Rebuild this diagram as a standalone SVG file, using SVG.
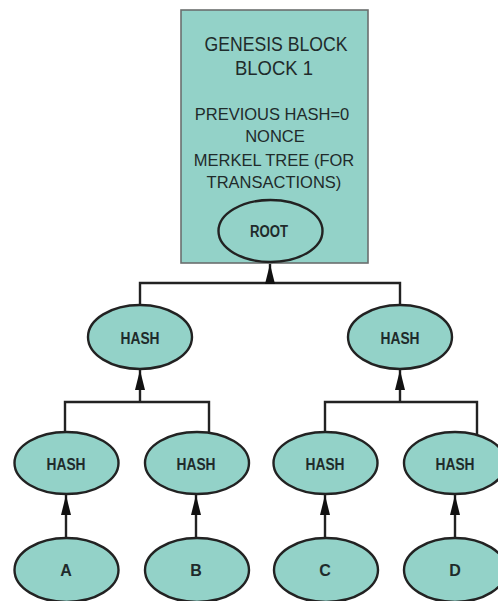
<svg xmlns="http://www.w3.org/2000/svg" width="498" height="601" viewBox="0 0 498 601">
<defs>
<style>
.blk{fill:#93d2c8;stroke:#6b6f6e;stroke-width:1.6}
.el{fill:#93d2c8;stroke:#222;stroke-width:2.4}
.ln{fill:none;stroke:#222;stroke-width:2.4}
.t1{font-family:"Liberation Sans",Arial,sans-serif;font-size:21px;fill:#1f2b2b;text-anchor:middle}
.t2{font-family:"Liberation Sans",Arial,sans-serif;font-size:16.5px;fill:#1f2b2b;text-anchor:middle}
.lb{font-family:"Liberation Sans",Arial,sans-serif;font-size:16px;font-weight:bold;fill:#1f2b2b;text-anchor:middle}
</style>
<marker id="ah" markerUnits="userSpaceOnUse" markerWidth="20" markerHeight="12" refX="20" refY="6" orient="auto">
<path d="M0,1 L20,6 L0,11 z" fill="#111"/>
</marker>
</defs>
<rect width="498" height="601" fill="#fff"/>
<g id="connectors">
<path class="ln" d="M140,305 V283 H400 V305"/>
<path class="ln" d="M270,283 V264" marker-end="url(#ah)"/>
<path class="ln" d="M65,434 V402 H209 V434"/>
<path class="ln" d="M140,402 V370" marker-end="url(#ah)"/>
<path class="ln" d="M325,434 V402 H477 V438"/>
<path class="ln" d="M400,402 V370" marker-end="url(#ah)"/>
<path class="ln" d="M66,539 V495" marker-end="url(#ah)"/>
<path class="ln" d="M196,539 V495" marker-end="url(#ah)"/>
<path class="ln" d="M325,539 V495" marker-end="url(#ah)"/>
<path class="ln" d="M455,539 V495" marker-end="url(#ah)"/>
</g>
<g id="genesis">
<rect class="blk" x="181" y="10" width="187" height="253"/>
<text class="t1" x="276" y="51" textLength="143" lengthAdjust="spacingAndGlyphs">GENESIS BLOCK</text>
<text class="t1" x="274" y="75" textLength="78" lengthAdjust="spacingAndGlyphs">BLOCK 1</text>
<text class="t2" x="272" y="120">PREVIOUS HASH=0</text>
<text class="t2" x="275" y="142">NONCE</text>
<text class="t2" x="274" y="166">MERKEL TREE (FOR</text>
<text class="t2" x="274" y="188">TRANSACTIONS)</text>
</g>
<g id="root">
<ellipse class="el" cx="270.5" cy="231" rx="52" ry="31"/>
<text class="lb" x="269" y="237" textLength="38" lengthAdjust="spacingAndGlyphs">ROOT</text>
</g>
<g id="hash-l">
<ellipse class="el" cx="140" cy="337" rx="52" ry="32"/>
<text class="lb" x="140" y="344" textLength="39" lengthAdjust="spacingAndGlyphs">HASH</text>
</g>
<g id="hash-r">
<ellipse class="el" cx="400" cy="337" rx="52" ry="32"/>
<text class="lb" x="400" y="344" textLength="39" lengthAdjust="spacingAndGlyphs">HASH</text>
</g>
<g id="hash-a">
<ellipse class="el" cx="66.5" cy="463" rx="52" ry="31"/>
<text class="lb" x="66" y="470" textLength="39" lengthAdjust="spacingAndGlyphs">HASH</text>
</g>
<g id="hash-b">
<ellipse class="el" cx="197" cy="463" rx="52" ry="31"/>
<text class="lb" x="196" y="470" textLength="39" lengthAdjust="spacingAndGlyphs">HASH</text>
</g>
<g id="hash-c">
<ellipse class="el" cx="325.5" cy="463" rx="52" ry="31"/>
<text class="lb" x="325" y="470" textLength="39" lengthAdjust="spacingAndGlyphs">HASH</text>
</g>
<g id="hash-d">
<ellipse class="el" cx="455" cy="463" rx="51" ry="31"/>
<text class="lb" x="455" y="470" textLength="39" lengthAdjust="spacingAndGlyphs">HASH</text>
</g>
<g id="a">
<ellipse class="el" cx="66.5" cy="570" rx="52" ry="32"/>
<text class="lb" x="66" y="576">A</text>
</g>
<g id="b">
<ellipse class="el" cx="197" cy="570" rx="52" ry="32"/>
<text class="lb" x="196" y="576">B</text>
</g>
<g id="c">
<ellipse class="el" cx="326" cy="570" rx="52" ry="32"/>
<text class="lb" x="325" y="576">C</text>
</g>
<g id="d">
<ellipse class="el" cx="455" cy="570" rx="51" ry="32"/>
<text class="lb" x="455" y="576">D</text>
</g>
</svg>
